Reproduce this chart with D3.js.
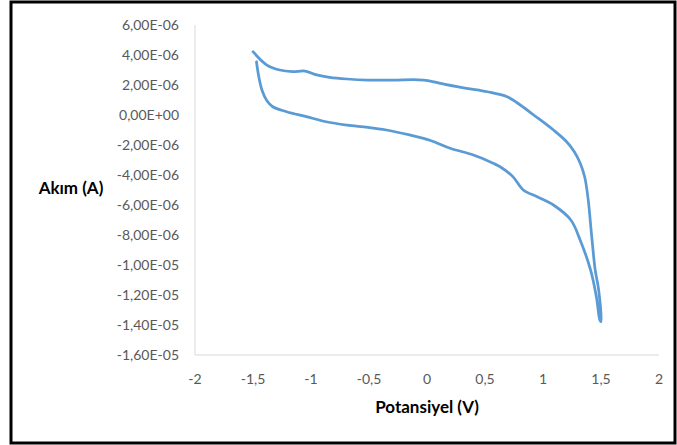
<!DOCTYPE html>
<html>
<head>
<meta charset="utf-8">
<script src="https://cdn.jsdelivr.net/npm/d3@7"></script>
<style>
  body { margin: 0; background: #fff; }
  text { font-family: Lato, "Open Sans", sans-serif; }
</style>
</head>
<body>
<div id="chart"></div>
<script>
// Cyclic voltammogram - Akım vs Potansiyel

// Potential (V), loop order: upper branch left -> right, then lower branch right -> left
const potansiyel = [
  -1.50, -1.38, -1.27, -1.16, -1.05, -0.95, -0.84, -0.69, -0.51, -0.29, -0.03,
  0.14, 0.34, 0.52, 0.69, 0.78, 0.92, 1.09, 1.20, 1.27, 1.32, 1.36, 1.39, 1.42, 1.45, 1.48, 1.50,
  1.49, 1.46, 1.41, 1.32, 1.24, 1.09, 0.95, 0.83, 0.74, 0.63, 0.57, 0.40, 0.20, 0.03,
  -0.15, -0.35, -0.51, -0.69, -0.87, -1.04, -1.21, -1.33, -1.38, -1.42, -1.45, -1.47
];
// Current (A)
const akim = [
  4.22e-6, 3.33e-6, 3.00e-6, 2.89e-6, 2.93e-6, 2.67e-6, 2.51e-6, 2.40e-6, 2.33e-6, 2.33e-6, 2.33e-6,
  2.07e-6, 1.78e-6, 1.55e-6, 1.22e-6, 0.80e-6, 0.00e-6, -1.00e-6, -1.75e-6, -2.45e-6, -3.20e-6, -4.15e-6,
  -5.67e-6, -8.11e-6, -10.33e-6, -11.67e-6, -13.78e-6,
  -13.67e-6, -12.11e-6, -10.33e-6, -8.33e-6, -7.00e-6, -6.00e-6, -5.45e-6, -5.00e-6, -4.11e-6,
  -3.45e-6, -3.22e-6, -2.67e-6, -2.22e-6, -1.70e-6,
  -1.33e-6, -1.00e-6, -0.82e-6, -0.67e-6, -0.45e-6, -0.11e-6, 0.22e-6, 0.55e-6, 0.95e-6, 1.60e-6, 2.55e-6, 3.55e-6
];

// Axis ticks
const xTicks = [-2, -1.5, -1, -0.5, 0, 0.5, 1, 1.5, 2];
const yTicks = [6e-6, 4e-6, 2e-6, 0, -2e-6, -4e-6, -6e-6, -8e-6, -10e-6, -12e-6, -14e-6, -16e-6];

const width = 677, height = 445;

const svg = d3.select("#chart")
  .append("svg")
    .attr("width", width)
    .attr("height", height);

// outer black frame
svg.append("rect")
  .attr("x", 11).attr("y", 2)
  .attr("width", 664).attr("height", 441)
  .attr("fill", "none")
  .attr("stroke", "#000")
  .attr("stroke-width", 3);

const x = d3.scaleLinear().domain([-2, 2]).range([195, 659]);
const y = d3.scaleLinear().domain([-16e-6, 6e-6]).range([355, 25]);

// Excel style "6,00E-06"
function sciComma(v) {
  if (Math.abs(v) < 1e-15) return "0,00E+00";
  const s = v.toExponential(2);           // e.g. "-1.20e-5"
  const [m, e] = s.split("e");
  const ev = parseInt(e);
  const es = (ev < 0 ? "-" : "+") + String(Math.abs(ev)).padStart(2, "0");
  return m.replace(".", ",") + "E" + es;
}

// axis lines
svg.append("line")
  .attr("x1", x(-2)).attr("x2", x(-2))
  .attr("y1", y(6e-6)).attr("y2", y(-16e-6))
  .attr("stroke", "#d9d9d9").attr("stroke-width", 1);
svg.append("line")
  .attr("x1", x(-2)).attr("x2", x(2))
  .attr("y1", y(-16e-6)).attr("y2", y(-16e-6))
  .attr("stroke", "#d9d9d9").attr("stroke-width", 1);

// y tick labels
svg.selectAll(".ytick")
  .data(yTicks)
  .enter()
  .append("text")
    .attr("x", 179)
    .attr("y", d => y(d) + 5)
    .attr("text-anchor", "end")
    .attr("font-size", "14px")
    .attr("fill", "#595959")
    .text(d => sciComma(d));

// x tick labels
svg.selectAll(".xtick")
  .data(xTicks)
  .enter()
  .append("text")
    .attr("x", d => x(d))
    .attr("y", 384)
    .attr("text-anchor", "middle")
    .attr("font-size", "14px")
    .attr("fill", "#595959")
    .text(d => String(d).replace(".", ","));

// axis titles
svg.append("text")
  .attr("x", 71).attr("y", 194)
  .attr("text-anchor", "middle")
  .attr("font-size", "17px")
  .attr("font-weight", "bold")
  .attr("fill", "#000")
  .text("Akım (A)");

svg.append("text")
  .attr("x", 427).attr("y", 413)
  .attr("text-anchor", "middle")
  .attr("font-size", "17px")
  .attr("font-weight", "bold")
  .attr("fill", "#000")
  .text("Potansiyel (V)");

// the curve
const dataset = potansiyel.map((v, i) => ({ v: v, a: akim[i] }));

const line = d3.line()
  .x(d => x(d.v))
  .y(d => y(d.a))
  .curve(d3.curveCatmullRom.alpha(0.5));

svg.append("path")
  .datum(dataset)
  .attr("fill", "none")
  .attr("stroke", "#5b9bd5")
  .attr("stroke-width", 2.75)
  .attr("stroke-linejoin", "round")
  .attr("stroke-linecap", "round")
  .attr("d", line);
</script>
</body>
</html>
